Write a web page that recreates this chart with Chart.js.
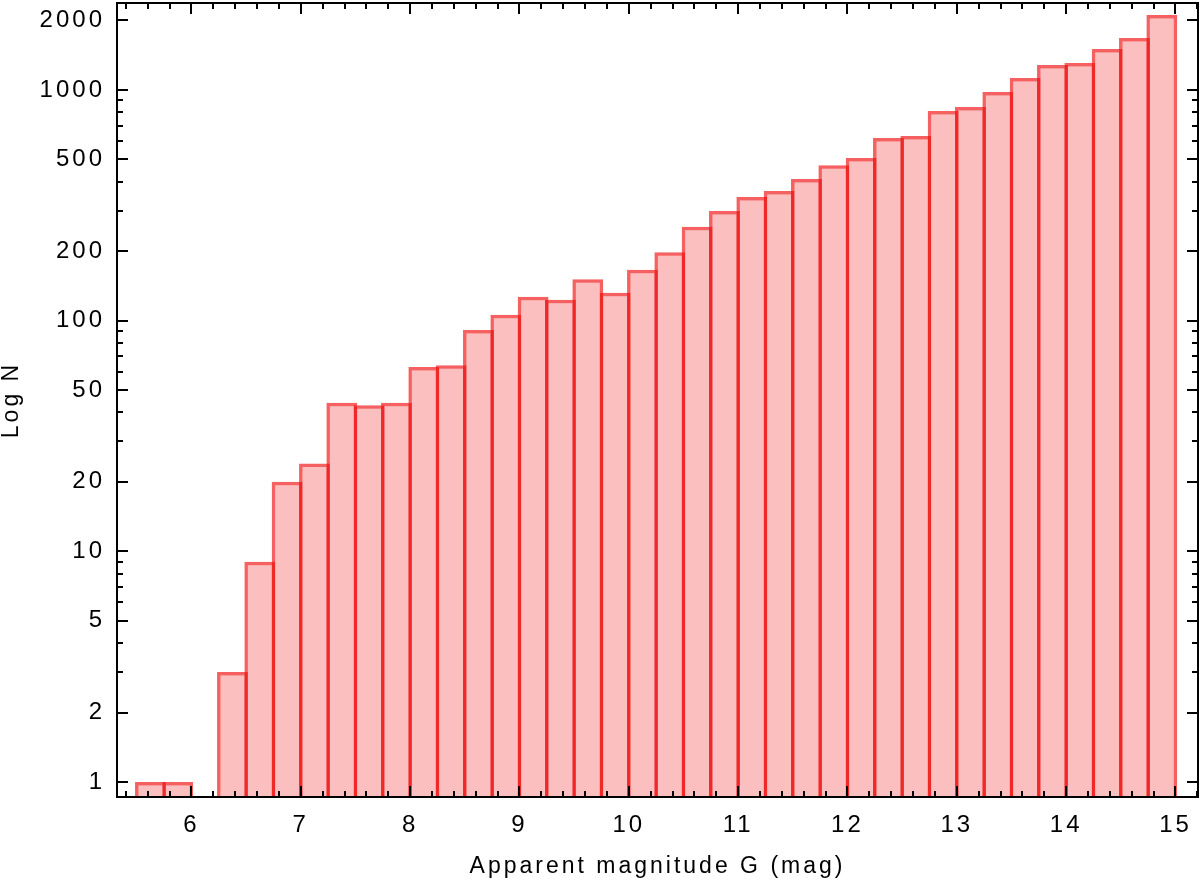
<!DOCTYPE html>
<html>
<head>
<meta charset="utf-8">
<script src="https://cdn.jsdelivr.net/npm/chart.js@4/dist/chart.umd.min.js"></script>
<style>
  html, body { margin: 0; padding: 0; background: #fff; }
</style>
</head>
<body>
<canvas id="histChart" width="1200" height="883"></canvas>
<script>
// left edges of the 0.25 mag bins
const binStart = [5.5, 5.75, 6.0, 6.25, 6.5, 6.75, 7.0, 7.25, 7.5, 7.75, 8.0, 8.25, 8.5, 8.75,
  9.0, 9.25, 9.5, 9.75, 10.0, 10.25, 10.5, 10.75, 11.0, 11.25, 11.5, 11.75, 12.0, 12.25,
  12.5, 12.75, 13.0, 13.25, 13.5, 13.75, 14.0, 14.25, 14.5, 14.75];
const binWidth = 0.25;
const counts = [1, 1, null, 3, 9, 20, 24, 44, 43, 44, 63, 64, 91, 106,
  127, 123, 151, 132, 166, 198, 255, 299, 343, 365, 411, 472, 507, 619,
  631, 810, 844, 979, 1126, 1282, 1309, 1504, 1678, 2112];
const xTickLabels = [6, 7, 8, 9, 10, 11, 12, 13, 14, 15];
const yTickLabels = [1, 2, 5, 10, 20, 50, 100, 200, 500, 1000, 2000];

const xMin = 5.319, xMax = 15.206;
const yMin = 0.861, yMax = 2381;

const points = binStart.map((b, i) => ({ x: b + binWidth / 2, y: counts[i] }));

// all log minor positions (1..9 x 10^n) inside the range
const yAllTicks = [];
for (let e = 0; e <= 3; e++) {
  for (let m = 1; m <= 9; m++) {
    const v = m * Math.pow(10, e);
    if (v >= yMin && v <= yMax) yAllTicks.push(v);
  }
}

const frameTicks = {
  id: 'frameTicks',
  beforeDraw(chart) {
    chart.ctx.letterSpacing = '3px';
  },
  afterDraw(chart) {
    const { ctx, chartArea: a, scales: { x, y } } = chart;
    ctx.save();
    ctx.strokeStyle = '#000';
    ctx.lineWidth = 2;
    ctx.beginPath();
    for (let k = 27; k <= 76; k++) {
      const v = k / 5;
      if (v < xMin || v > xMax) continue;
      const px = Math.round(x.getPixelForValue(v));
      const len = (k % 5 === 0) ? 11 : 6;
      ctx.moveTo(px, a.bottom); ctx.lineTo(px, a.bottom - len);
      ctx.moveTo(px, a.top); ctx.lineTo(px, a.top + len);
    }
    yAllTicks.forEach(v => {
      const py = Math.round(y.getPixelForValue(v));
      const len = yTickLabels.includes(v) ? 11 : 6;
      ctx.moveTo(a.left, py); ctx.lineTo(a.left + len, py);
      ctx.moveTo(a.right, py); ctx.lineTo(a.right - len, py);
    });
    ctx.stroke();
    ctx.strokeRect(a.left, a.top, a.right - a.left, a.bottom - a.top);
    ctx.restore();
  }
};

Chart.defaults.font.family = '"Liberation Sans", Arial, Helvetica, sans-serif';
Chart.defaults.color = '#000';

new Chart(document.getElementById('histChart').getContext('2d'), {
  type: 'bar',
  data: {
    datasets: [{
      data: points,
      backgroundColor: 'rgba(245, 0, 0, 0.25)',
      borderColor: 'rgba(240, 10, 10, 0.65)',
      borderWidth: 3.5,
      borderSkipped: 'start',
      inflateAmount: 0,
      categoryPercentage: 1,
      barPercentage: 1.128
    }]
  },
  options: {
    responsive: false,
    animation: false,
    layout: { padding: { top: 3, right: 2, left: 0, bottom: 0 } },
    plugins: { legend: { display: false }, tooltip: { enabled: false } },
    scales: {
      x: {
        type: 'linear',
        offset: false,
        min: xMin,
        max: xMax,
        afterBuildTicks: s => { s.ticks = xTickLabels.map(v => ({ value: v })); },
        afterFit: s => { s.height = 86; s.paddingLeft = 0; s.paddingRight = 0; },
        grid: { display: false, drawTicks: false },
        border: { display: false },
        ticks: { font: { size: 24 }, padding: 14, autoSkip: false, maxRotation: 0 },
        title: {
          display: true,
          text: 'Apparent magnitude G (mag)',
          font: { size: 23, lineHeight: 1 },
          padding: { top: 0, bottom: 5 }
        }
      },
      y: {
        type: 'logarithmic',
        min: yMin,
        max: yMax,
        afterBuildTicks: s => { s.ticks = yAllTicks.map(v => ({ value: v })); },
        afterFit: s => { s.width = 117; s.paddingTop = 0; s.paddingBottom = 0; },
        grid: { display: false, drawTicks: false },
        border: { display: false },
        ticks: {
          font: { size: 24 },
          padding: 12,
          autoSkip: false,
          callback: v => yTickLabels.includes(v) ? String(v) : ''
        },
        title: {
          display: true,
          text: 'Log N',
          font: { size: 23, lineHeight: 1 },
          padding: { top: 0, bottom: 0 }
        }
      }
    }
  },
  plugins: [frameTicks]
});
</script>
</body>
</html>
